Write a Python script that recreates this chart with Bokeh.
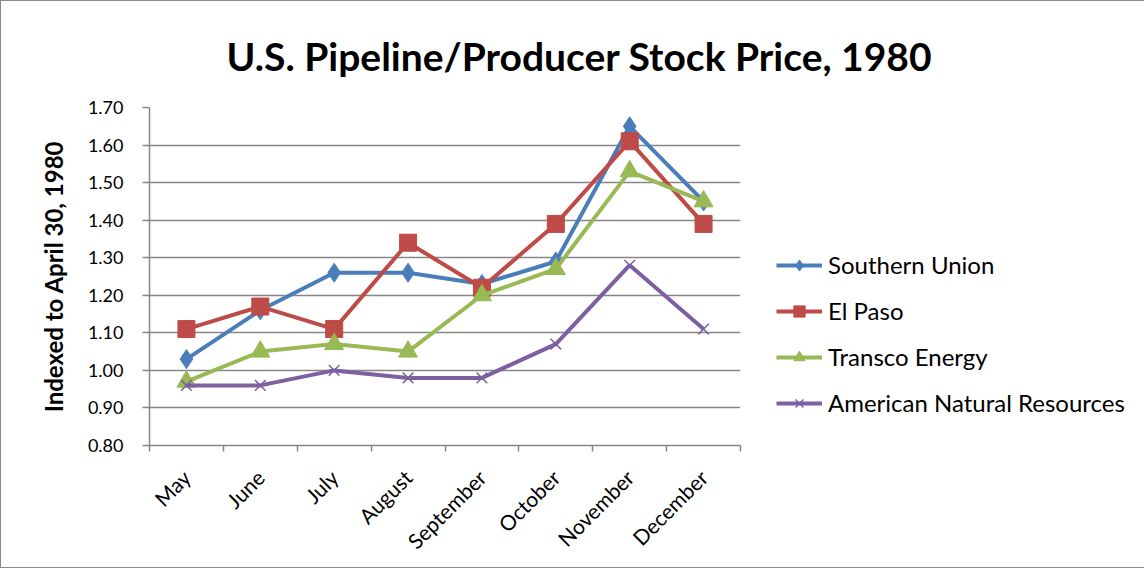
import math
from bokeh.plotting import figure
from bokeh.models import Range1d, FixedTicker, Legend, LegendItem, NumeralTickFormatter
from bokeh.embed import file_html
from bokeh.resources import INLINE

months = ["May", "June", "July", "August", "September", "October", "November", "December"]
southern_union = [1.03, 1.16, 1.26, 1.26, 1.23, 1.29, 1.65, 1.45]
el_paso = [1.11, 1.17, 1.11, 1.34, 1.22, 1.39, 1.61, 1.39]
transco_energy = [0.97, 1.05, 1.07, 1.05, 1.20, 1.27, 1.53, 1.45]
american_natural = [0.96, 0.96, 1.00, 0.98, 0.98, 1.07, 1.28, 1.11]
series_names = ["Southern Union", "El Paso", "Transco Energy", "American Natural Resources"]
y_ticks = [0.80, 0.90, 1.00, 1.10, 1.20, 1.30, 1.40, 1.50, 1.60, 1.70]

title_text = "U.S. Pipeline/Producer Stock Price, 1980"
y_label = "Indexed to April 30, 1980"

FONT = "Lato"
GRID = "#868686"

x_centers = [i + 0.5 for i in range(len(months))]
x_bounds = list(range(len(months) + 1))

p = figure(frame_width=591, frame_height=338,
           min_border_left=148, min_border_right=389, min_border_top=106, min_border_bottom=122,
           x_range=Range1d(0, len(months)), y_range=Range1d(y_ticks[0], y_ticks[-1]),
           output_backend="svg", toolbar_location=None)
p.styles = {"border": "1px solid #8c8c8c", "box-sizing": "border-box"}
p.outline_line_color = None
p.background_fill_color = "white"
p.border_fill_color = "white"

# title
p.title.text = title_text
p.title.align = "left"
p.title.offset = 77
p.title.standoff = 58
p.title.text_font = FONT
p.title.text_font_style = "bold"
p.title.text_font_size = "39px"
p.title.text_color = "black"

# x axis
p.xaxis.ticker = FixedTicker(ticks=x_centers, minor_ticks=x_bounds)
p.xaxis.major_label_overrides = {xc: m for xc, m in zip(x_centers, months)}
p.xaxis.major_tick_out = 0
p.xaxis.major_tick_in = 0
p.xaxis.minor_tick_out = 6
p.xaxis.minor_tick_in = 0
p.xaxis.minor_tick_line_color = GRID
p.xaxis.minor_tick_line_width = 1.5
p.xaxis.axis_line_color = GRID
p.xaxis.axis_line_width = 1.5
p.xaxis.major_label_orientation = math.pi / 4
p.xaxis.major_label_text_font = FONT
p.xaxis.major_label_text_font_size = "21px"
p.xaxis.major_label_text_color = "black"
p.xaxis.major_label_standoff = 22
p.xgrid.visible = False

# y axis
p.yaxis.ticker = FixedTicker(ticks=y_ticks, minor_ticks=[])
p.yaxis.formatter = NumeralTickFormatter(format="0.00")
p.yaxis.major_tick_out = 7
p.yaxis.major_tick_in = 0
p.yaxis.major_tick_line_color = GRID
p.yaxis.major_tick_line_width = 1.5
p.yaxis.axis_line_color = GRID
p.yaxis.axis_line_width = 1.5
p.yaxis.major_label_text_font = FONT
p.yaxis.major_label_text_font_size = "18px"
p.yaxis.major_label_text_color = "black"
p.yaxis.major_label_standoff = 19
p.yaxis.axis_label = y_label
p.yaxis.axis_label_text_font = FONT
p.yaxis.axis_label_text_font_style = "bold"
p.yaxis.axis_label_text_font_size = "24px"
p.yaxis.axis_label_text_color = "black"
p.yaxis.axis_label_standoff = 17
p.ygrid.ticker = FixedTicker(ticks=y_ticks)
p.ygrid.grid_line_color = GRID
p.ygrid.grid_line_width = 1.5

colors = ["#4A7EBB", "#BE4B48", "#98B954", "#7D60A0"]
markers = ["diamond", "square", "triangle", "x"]
sizes = [19, 17, 19, 15]
all_series = [southern_union, el_paso, transco_energy, american_natural]

items = []
for name, vals, c, m, s in zip(series_names, all_series, colors, markers, sizes):
    lr = p.line(x_centers, vals, line_color=c, line_width=4)
    if m == "x":
        mr = p.scatter(x_centers, vals, marker=m, size=s, line_color=c, line_width=1.5)
    else:
        mr = p.scatter(x_centers, vals, marker=m, size=s, fill_color=c, line_color=c)
    items.append(LegendItem(label=name, renderers=[lr, mr]))

legend = Legend(items=items, location=(36, 28), orientation="vertical",
                glyph_width=46, glyph_height=28, label_height=28, spacing=17,
                label_standoff=6, padding=0, margin=0,
                border_line_color=None, background_fill_alpha=0,
                label_text_font=FONT, label_text_font_size="24px", label_text_color="black")
p.add_layout(legend, "right")

open("out.html", "w").write(file_html(p, INLINE))
